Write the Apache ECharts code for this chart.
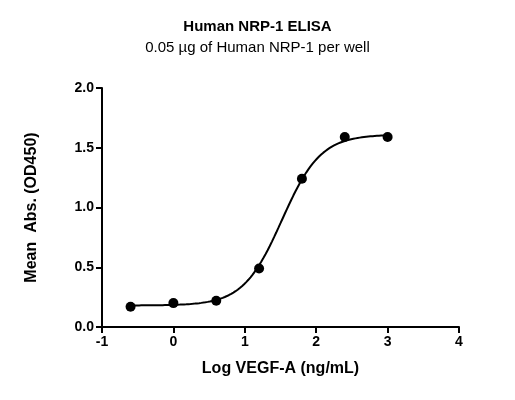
<!DOCTYPE html><html><head><meta charset="utf-8"><script src="https://cdn.jsdelivr.net/npm/echarts@6/dist/echarts.min.js"></script></head><body style="margin:0"><div id="c" style="width:515px;height:400px"></div><script>
const logConc=[-0.6,0,0.6,1.2,1.8,2.4,3.0];
const absVals=[0.17,0.20,0.22,0.49,1.24,1.59,1.59];
const fitBottom=0.18, fitTop=1.61, fitLogEC50=1.52, fitHill=1.6;
const curve=[];
for(let i=0;i<=120;i++){const x=-0.6+3.6*i/120;curve.push([x,fitBottom+(fitTop-fitBottom)/(1+Math.pow(10,(fitLogEC50-x)*fitHill))]);}
const c=echarts.init(document.getElementById('c'));
c.setOption({animation:false,
title:{text:'Human NRP-1 ELISA',subtext:'0.05 µg of Human NRP-1 per well',left:'center',top:14,itemGap:6,
textStyle:{fontFamily:'Arial',fontSize:15,fontWeight:'bold',color:'#000'},subtextStyle:{fontFamily:'Arial',fontSize:15,color:'#000'}},
grid:{left:102,right:56,top:88,bottom:73},
xAxis:{type:'value',min:-1,max:4,interval:1,name:'Log VEGF-A (ng/mL)',nameLocation:'middle',nameGap:34,
nameTextStyle:{fontFamily:'Arial',fontSize:16,fontWeight:'bold',color:'#000'},
axisLine:{onZero:false,lineStyle:{color:'#000',width:2}},axisTick:{lineStyle:{color:'#000',width:2},length:6},splitLine:{show:false},
axisLabel:{fontFamily:'Arial',fontSize:14,fontWeight:'bold',color:'#000'}},
yAxis:{type:'value',min:0,max:2,interval:0.5,name:'Mean  Abs. (OD450)',nameLocation:'middle',nameGap:62,
nameTextStyle:{fontFamily:'Arial',fontSize:16,fontWeight:'bold',color:'#000'},
axisLine:{show:true,onZero:false,lineStyle:{color:'#000',width:2}},axisTick:{show:true,lineStyle:{color:'#000',width:2},length:6},splitLine:{show:false},
axisLabel:{fontFamily:'Arial',fontSize:14,fontWeight:'bold',color:'#000',formatter:v=>v.toFixed(1)}},
series:[{type:'line',data:curve,showSymbol:false,lineStyle:{color:'#000',width:2}},
{type:'scatter',data:logConc.map((x,i)=>[x,absVals[i]]),symbolSize:10,itemStyle:{color:'#000',opacity:1}}]});
</script></body></html>
